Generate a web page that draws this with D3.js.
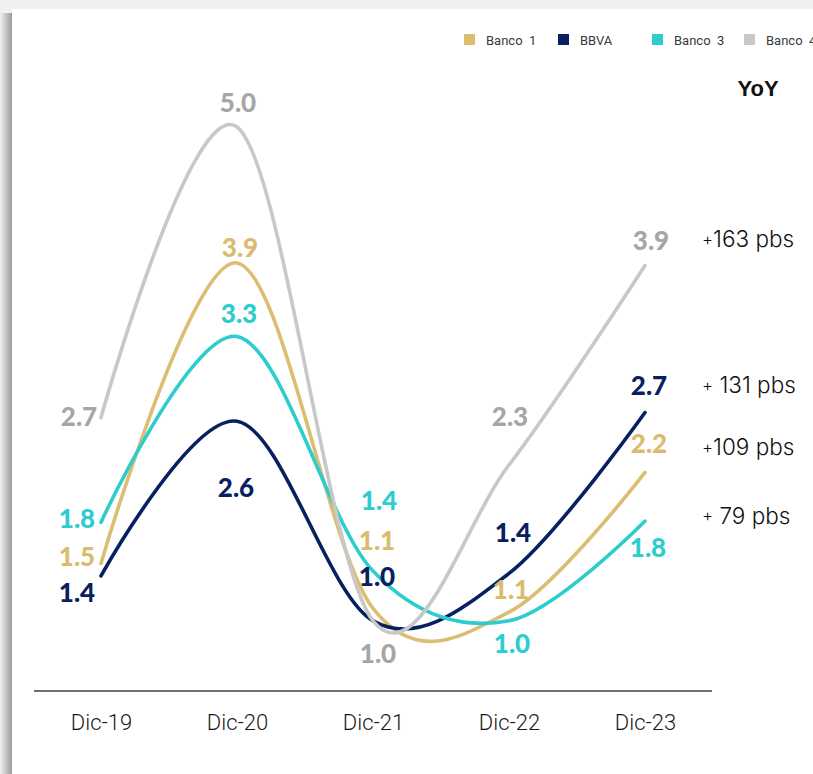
<!DOCTYPE html>
<html>
<head>
<meta charset="utf-8">
<script src="https://cdn.jsdelivr.net/npm/d3@7"></script>
<style>
  html, body { margin: 0; padding: 0; background: #f0f0f0; }
  svg { display: block; }
</style>
</head>
<body>
<svg id="chart" width="813" height="774"></svg>
<script>
// ---- data ----
const categories = ["Dic-19", "Dic-20", "Dic-21", "Dic-22", "Dic-23"];
const seriesNames = ["Banco 1", "BBVA", "Banco 3", "Banco 4"];
const banco1 = [1.50, 3.91, 1.14, 1.11, 2.23];
const bbva   = [1.40, 2.64, 1.04, 1.42, 2.71];
const banco3 = [1.83, 3.32, 1.44, 1.04, 1.84];
const banco4 = [2.67, 5.00, 1.04, 2.29, 3.89];
const yoyLabels = ["+109 pbs", "+ 131 pbs", "+ 79 pbs", "+163 pbs"];

// ---- styling / layout ----
const lineColors  = ["#dcbd72", "#072160", "#2dcdcd", "#c8c8c8"];
const labelColors = ["#dbbb6e", "#072160", "#2dcdcd", "#a6a6a6"];
// label offsets relative to each point [dx, dy]
const labelPlacement = [
  [[-24, -7], [3, -15], [4, -68], [2, -22], [4, -29]],
  [[-24, 17], [-1, 66], [4, -44], [4, -41], [4, -27]],
  [[-24, -4], [2, -23], [6, -70], [3, 23], [3, 27]],
  [[-22, -1], [1, -24], [5, 33], [1, -48], [6, -25]]
];
const yoyDy = [-18, -20, 2, -19];

const svg = d3.select("#chart");

// background panel with left shadow
const defs = svg.append("defs");
const g1 = defs.append("linearGradient").attr("id", "shadowL").attr("x1", "0").attr("x2", "1").attr("y1", "0").attr("y2", "0");
g1.append("stop").attr("offset", "0%").attr("stop-color", "#f0f0f0");
g1.append("stop").attr("offset", "100%").attr("stop-color", "#9a9a9a");

svg.append("rect").attr("x", 0).attr("y", 13).attr("width", 12).attr("height", 761).attr("fill", "url(#shadowL)");
svg.append("rect").attr("x", 12).attr("y", 9).attr("width", 801).attr("height", 765).attr("fill", "#ffffff");

const x = d3.scalePoint().domain(categories).range([101, 645]);
const y = d3.scaleLinear().domain([1, 5]).range([625.8, 127]);

const allSeries = [banco1, bbva, banco3, banco4];

// axis
const axis = d3.axisBottom(x).tickSize(0).tickPadding(0);
const axG = svg.append("g").attr("transform", "translate(0,691)").call(axis);
axG.select(".domain").remove();
svg.append("line").attr("x1", 34).attr("x2", 712).attr("y1", 691).attr("y2", 691)
  .attr("stroke", "#404040").attr("stroke-width", 1.3);
axG.selectAll(".tick text")
  .attr("y", 31).attr("dy", "0.35em")
  .attr("font-family", "Roboto, sans-serif").attr("font-weight", 300).attr("font-size", 22)
  .attr("fill", "#1a1a1a");

// lines
const line = d3.line()
  .x((d, i) => x(categories[i]))
  .y(d => y(d))
  .curve(d3.curveCardinal.tension(0));

allSeries.forEach((s, k) => {
  svg.append("path").datum(s)
    .attr("d", line)
    .attr("fill", "none")
    .attr("stroke", lineColors[k])
    .attr("stroke-width", 3.6)
    .attr("stroke-linecap", "round");
});

// value labels
const fmt = d3.format(".1f");
allSeries.forEach((s, k) => {
  svg.append("g").selectAll("text").data(s).join("text")
    .attr("x", (d, i) => x(categories[i]) + labelPlacement[k][i][0])
    .attr("y", (d, i) => y(d) + labelPlacement[k][i][1])
    .attr("dy", "0.36em")
    .attr("text-anchor", "middle")
    .attr("font-family", "Lato, sans-serif")
    .attr("font-weight", 900)
    .attr("font-size", 26)
    .attr("fill", labelColors[k])
    .text(d => fmt(d));
});

// YoY annotations
svg.append("text").attr("x", 758).attr("y", 88).attr("dy", "0.35em")
  .attr("text-anchor", "middle")
  .attr("font-family", "'Liberation Sans', Arial, sans-serif")
  .attr("font-weight", "bold").attr("font-size", 22).attr("fill", "#111")
  .text("YoY");

allSeries.forEach((s, k) => {
  const t = svg.append("text")
    .attr("x", 702).attr("y", y(s[s.length - 1]) + yoyDy[k]).attr("dy", "0.35em")
    .attr("font-family", "Inter, sans-serif").attr("font-weight", 300).attr("font-size", 22.5).attr("fill", "#111")
    .style("white-space", "pre");
  const lab = yoyLabels[k];
  t.append("tspan").attr("font-size", 17).attr("dy", "-0.1em").text(lab[0]);
  t.append("tspan").attr("dy", "0.1em").text(lab.slice(1));
});

// legend
const legendX = [464, 558, 652, 744];
const leg = svg.append("g").selectAll("g").data(seriesNames).join("g")
  .attr("transform", (d, i) => `translate(${legendX[i]},34)`);
leg.append("rect").attr("width", 11).attr("height", 11).attr("fill", (d, i) => lineColors[i]);
leg.append("text").attr("x", 22).attr("y", 6).attr("dy", "0.35em")
  .attr("font-family", "Roboto, sans-serif").attr("font-size", 13).attr("fill", "#3a3a3a")
  .style("white-space", "pre")
  .text(d => d.replace(" ", "  "));
</script>
</body>
</html>
